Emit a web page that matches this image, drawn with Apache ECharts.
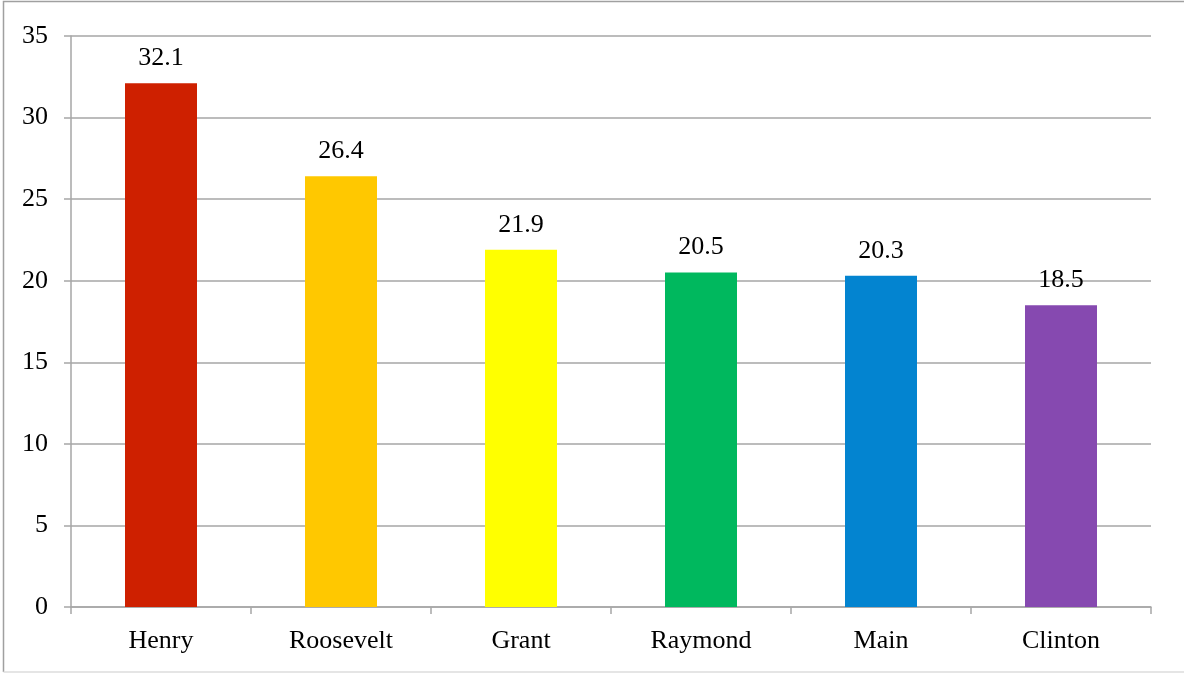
<!DOCTYPE html>
<html>
<head>
<meta charset="utf-8">
<script src="https://cdn.jsdelivr.net/npm/echarts@6/dist/echarts.min.js"></script>
<style>
  html, body { margin: 0; padding: 0; background: #fff; }
  #chart { width: 1184px; height: 673px; }
</style>
</head>
<body>
<div id="chart"></div>
<script>
// School names along the x axis
const categories = ['Henry', 'Roosevelt', 'Grant', 'Raymond', 'Main', 'Clinton'];
// Value for each school
const values = [32.1, 26.4, 21.9, 20.5, 20.3, 18.5];
// One fill colour per bar
const barColors = ['#CE2000', '#FFC800', '#FFFF00', '#00B85E', '#0384D0', '#8649B0'];

const font = 'Liberation Serif, Times New Roman, serif';
const axisGray = '#a6a6a6';

const chart = echarts.init(document.getElementById('chart'));
chart.setOption({
  animation: false,
  backgroundColor: '#fff',
  // frame around the chart: darker left/top edges, faint bottom edge
  graphic: [
    {
      type: 'polyline',
      shape: { points: [[3.5, 672], [3.5, 1.5], [1184, 1.5]] },
      style: { fill: 'none', stroke: '#a0a0a0', lineWidth: 1.5 },
      silent: true
    },
    {
      type: 'line',
      shape: { x1: 3.5, y1: 672, x2: 1184, y2: 672 },
      style: { stroke: '#dcdcdc', lineWidth: 1.5 },
      silent: true
    }
  ],
  grid: { left: 71, right: 33, top: 36, bottom: 66 },
  xAxis: {
    type: 'category',
    data: categories,
    boundaryGap: true,
    axisLine: { lineStyle: { color: axisGray, width: 1.5 } },
    axisTick: { show: true, length: 7, lineStyle: { color: axisGray, width: 1.5 } },
    axisLabel: { color: '#000', fontFamily: font, fontSize: 26, margin: 21 }
  },
  yAxis: {
    type: 'value',
    min: 0, max: 35, interval: 5,
    axisLine: { show: true, lineStyle: { color: axisGray, width: 1.5 } },
    axisTick: { show: true, length: 7, lineStyle: { color: axisGray, width: 1.5 } },
    splitLine: { lineStyle: { color: axisGray, width: 1.5 } },
    axisLabel: { color: '#000', fontFamily: font, fontSize: 26, margin: 23 }
  },
  series: [{
    type: 'bar',
    barWidth: '40%',
    data: values.map((v, i) => ({ value: v, itemStyle: { color: barColors[i] } })),
    label: {
      show: true,
      position: 'top',
      distance: 12,
      color: '#000',
      fontFamily: font,
      fontSize: 26,
      formatter: p => p.value.toFixed(1)
    }
  }]
});
</script>
</body>
</html>
